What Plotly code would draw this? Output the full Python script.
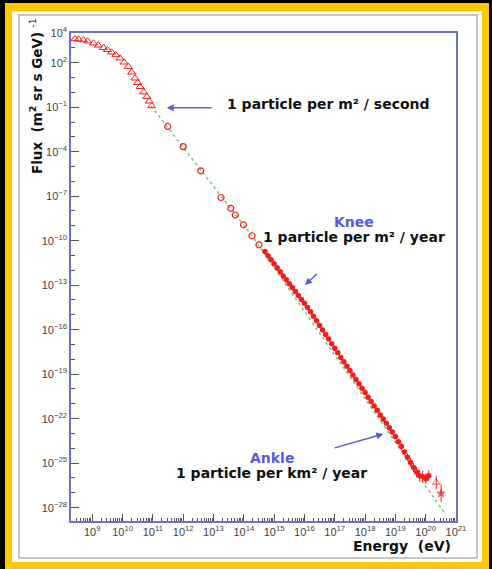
import plotly.graph_objects as go
import numpy as np

# ---------------- data (log10 values) ----------------
# low-energy part (open triangles)
tri_logE = [8.43, 8.55, 8.71, 8.85, 9.04, 9.20, 9.37, 9.50, 9.64, 9.78, 9.92,
            10.05, 10.19, 10.30, 10.41, 10.50, 10.58, 10.70, 10.80, 10.88, 10.96]
tri_logF = [3.60, 3.57, 3.53, 3.45, 3.31, 3.17, 3.01, 2.87, 2.70, 2.52, 2.30,
            2.03, 1.73, 1.35, 0.95, 0.65, 0.38, 0.02, -0.29, -0.60, -0.92]

# sparse open circles
circ_logE = [11.49, 12.00, 12.58, 13.25, 13.57, 13.72, 13.99, 14.27, 14.50]
circ_logF = [-2.30, -3.66, -5.29, -7.09, -7.82, -8.27, -8.93, -9.67, -10.28]

# dense air-shower data
dense_logE = [14.7, 14.8, 14.9, 15.0, 15.1, 15.2, 15.3, 15.4, 15.5, 15.6,
              15.7, 15.8, 15.9, 16.0, 16.1, 16.2, 16.3, 16.4, 16.5, 16.6,
              16.7, 16.8, 16.9, 17.0, 17.1, 17.2, 17.3, 17.4, 17.5, 17.6,
              17.7, 17.8, 17.9, 18.0, 18.1, 18.2, 18.3, 18.4, 18.5, 18.6,
              18.7, 18.8, 18.9, 19.0, 19.1, 19.2, 19.3, 19.4, 19.5, 19.6,
              19.7, 19.8, 19.9, 20.0, 20.1]
dense_logF = [-10.73, -11.02, -11.28, -11.55, -11.83, -12.10, -12.38, -12.64, -12.90, -13.15,
              -13.43, -13.70, -13.96, -14.22, -14.50, -14.80, -15.10, -15.40, -15.72, -16.02,
              -16.33, -16.63, -16.95, -17.25, -17.55, -17.87, -18.16, -18.47, -18.76, -19.05,
              -19.36, -19.65, -19.95, -20.24, -20.55, -20.85, -21.15, -21.44, -21.75, -22.03,
              -22.31, -22.62, -22.90, -23.20, -23.55, -23.88, -24.25, -24.60, -24.95, -25.30,
              -25.60, -25.85, -25.90, -26.05, -25.85]
dense_err_dec = [0.03] * 36 + [0.05, 0.06, 0.08, 0.15, 0.10, 0.2, 0.12, 0.15, 0.2, 0.25,
                               0.2, 0.25, 0.3, 0.3, 0.35, 0.4, 0.4, 0.35, 0.35]

# highest-energy points
top_logE = [20.35, 20.51]
top_logF = [-26.30, -27.04]
top_err_dec = [0.45, 0.6]

# dotted power-law guide line
fit_logE = [10.94, 14.27, 17.20, 20.60]
fit_logF = [-0.92, -9.67, -18.30, -28.30]

# axis ticks
x_tick_exp = list(range(9, 22))
y_tick_exp = [4, 2, -1, -4, -7, -10, -13, -16, -19, -22, -25, -28]


def tenpow(a):
    return np.power(10.0, np.array(a, dtype=float))


def sup(n):
    return "10<sup>" + str(n).replace("-", "\u2212") + "</sup>"


RED = "#f41c1c"
BLUE = "#5a5ae0"
AXIS = "#7070c8"
FONT = "Liberation Sans, Arial, sans-serif"
BOLDFONT = "DejaVu Sans, Verdana, sans-serif"

fig = go.Figure()

fig.add_trace(go.Scatter(
    x=tenpow(fit_logE), y=tenpow(fit_logF), mode="lines",
    line=dict(color="#7ccc7c", width=1.6, dash="dot"), hoverinfo="skip"))

fig.add_trace(go.Scatter(
    x=tenpow(tri_logE), y=tenpow(tri_logF), mode="markers",
    marker=dict(symbol="triangle-up-open", size=7, color=RED, line=dict(width=1))))

fig.add_trace(go.Scatter(
    x=tenpow(circ_logE), y=tenpow(circ_logF), mode="markers",
    marker=dict(symbol="circle-open", size=6, color=RED, line=dict(width=1.2))))

dF = tenpow(dense_logF)
de = np.array(dense_err_dec)
fig.add_trace(go.Scatter(
    x=tenpow(dense_logE), y=dF, mode="markers",
    marker=dict(symbol="circle", size=5.5, color=RED, line=dict(width=0)),
    error_y=dict(type="data", symmetric=False,
                 array=dF * (np.power(10, de) - 1),
                 arrayminus=dF * (1 - np.power(10, -de)),
                 color=RED, thickness=1, width=0)))

tF = tenpow(top_logF)
te = np.array(top_err_dec)
fig.add_trace(go.Scatter(
    x=tenpow(top_logE), y=tF, mode="markers",
    marker=dict(symbol=["triangle-up-open", "star"], size=[7, 6], color=RED,
                line=dict(width=1, color=RED)),
    error_y=dict(type="data", symmetric=False,
                 array=tF * (np.power(10, te) - 1),
                 arrayminus=tF * (1 - np.power(10, -te)),
                 color=RED, thickness=1, width=0)))

# ---------------- layout helpers (pixel -> paper) ----------------
L, R, T, B = 71, 36, 33, 48
W, H = 492, 569
PW, PH = W - L - R, H - T - B


def px(x):
    return (x - L) / PW


def py(y):
    return (H - B - y) / PH


shapes = [
    dict(type="rect", xref="paper", yref="paper", layer="below",
         x0=px(5), x1=px(489), y0=py(3), y1=py(572),
         fillcolor="#ffc800", line=dict(width=0)),
    dict(type="rect", xref="paper", yref="paper", layer="below",
         x0=px(12), x1=px(482), y0=py(11), y1=py(562),
         fillcolor="white", line=dict(width=0)),
    dict(type="rect", xref="paper", yref="paper", layer="below",
         x0=px(19), x1=px(477), y0=py(15), y1=py(558),
         fillcolor="rgba(0,0,0,0)", line=dict(color="#b4b4b4", width=1.5)),
]

ann = []


def text(x, y, s, color="#111", size=14):
    ann.append(dict(xref="paper", yref="paper", x=px(x), y=py(y), text=s,
                    showarrow=False, xanchor="center", yanchor="middle",
                    font=dict(family=BOLDFONT, size=size, color=color)))


def arrow(hx, hy, tx, ty):
    ann.append(dict(xref="paper", yref="paper", x=px(hx), y=py(hy), text="",
                    showarrow=True, ax=tx - hx, ay=ty - hy,
                    arrowhead=2, arrowsize=1, arrowwidth=1.4, arrowcolor=BLUE))


text(328, 104, "<b>1 particle per m\u00b2 / second</b>")
arrow(166.7, 107.7, 213, 107.7)
text(354, 222, "<b>Knee</b>", color=BLUE)
text(354, 237, "<b>1 particle per m\u00b2 / year</b>")
arrow(305, 285, 318.3, 272.7)
text(272, 458, "<b>Ankle</b>", color=BLUE)
text(271, 473, "<b>1 particle per km\u00b2 / year</b>")
arrow(383.3, 434, 333.3, 448.3)
text(402, 546, "<b>Energy  (eV)</b>", size=14)
ann.append(dict(xref="paper", yref="paper", x=px(36), y=py(96),
                text="<b>Flux  (m<sup>2</sup> sr s GeV)</b> <sup>-1</sup>",
                textangle=-90, showarrow=False, xanchor="center", yanchor="middle",
                font=dict(family=BOLDFONT, size=13.5, color="#111")))

x_minor = [m * 10.0 ** e for e in range(8, 21) for m in range(2, 10)]
y_minor = [10.0 ** e for e in range(-28, 5)]

fig.update_layout(
    width=W, height=H, margin=dict(l=L, r=R, t=T, b=B),
    paper_bgcolor="black", plot_bgcolor="white", showlegend=False,
    shapes=shapes, annotations=ann,
    font=dict(family=FONT, size=11, color="#444"),
    xaxis=dict(type="log", range=[8.3, 21.0],
               tickmode="array", tickvals=[10.0 ** e for e in x_tick_exp],
               ticktext=[sup(e) for e in x_tick_exp],
               ticks="inside", ticklen=7, tickcolor="#555", tickwidth=1,
               showgrid=False, zeroline=False,
               showline=True, linecolor=AXIS, linewidth=1.5, mirror=True,
               tickfont=dict(size=11, color="#444"),
               minor=dict(tickmode="array", tickvals=x_minor, ticks="inside",
                          ticklen=3, tickcolor="#555", showgrid=False)),
    yaxis=dict(type="log", range=[-28.9, 4.0],
               tickmode="array", tickvals=[10.0 ** e for e in y_tick_exp],
               ticktext=[sup(e) for e in y_tick_exp],
               ticks="inside", ticklen=8, tickcolor="#555", tickwidth=1,
               showgrid=False, zeroline=False,
               showline=True, linecolor=AXIS, linewidth=1.5, mirror=True,
               tickfont=dict(size=11, color="#444"),
               minor=dict(tickmode="array", tickvals=y_minor, ticks="inside",
                          ticklen=4, tickcolor="#555", showgrid=False)),
)

fig.write_html("out.html", config={"displayModeBar": False},
               post_script="document.body.style.margin='0';"
                           "document.body.style.padding='0';"
                           "document.body.style.background='black';")
